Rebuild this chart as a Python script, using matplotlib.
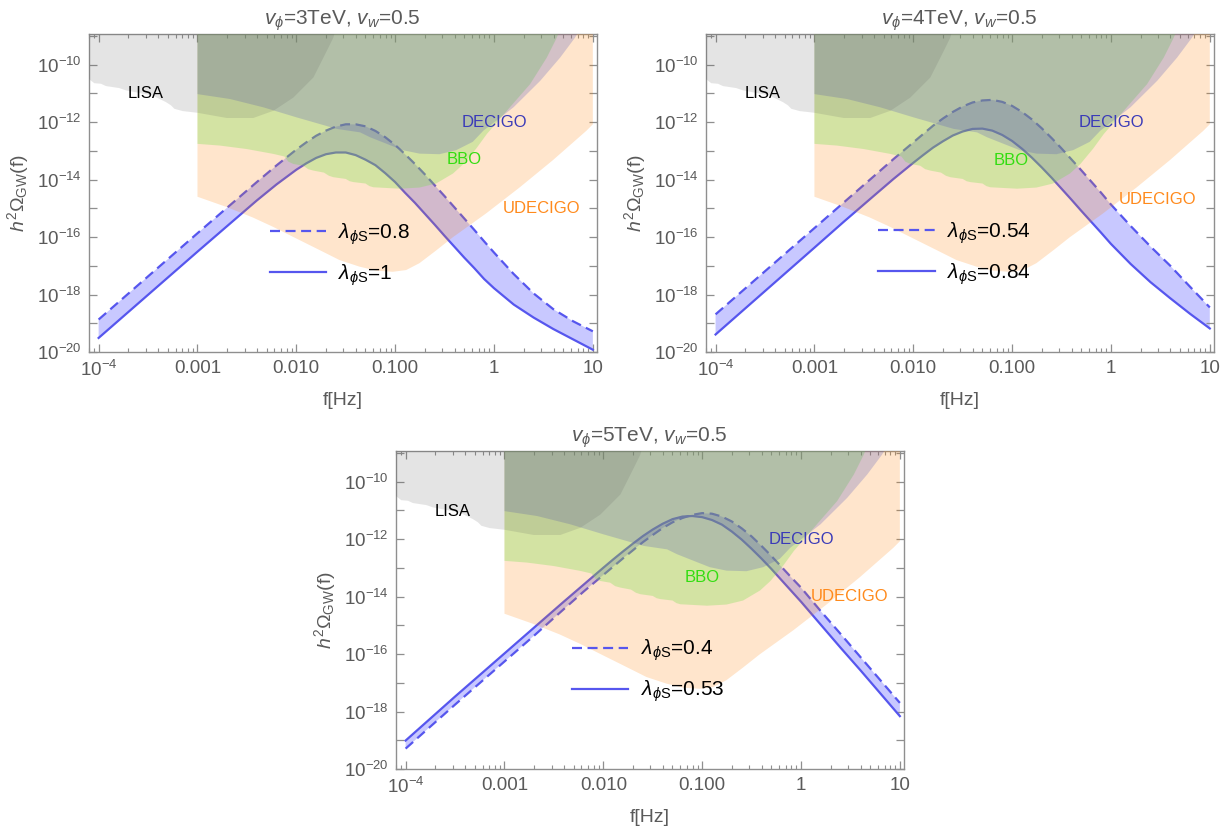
import numpy as np
import matplotlib
matplotlib.use("Agg")
import matplotlib.pyplot as plt
from matplotlib.ticker import FixedLocator, FixedFormatter, NullFormatter

plt.rcParams['font.family'] = ['Liberation Sans', 'DejaVu Sans']
plt.rcParams['mathtext.fontset'] = 'custom'
plt.rcParams['mathtext.rm'] = 'Liberation Sans'
plt.rcParams['mathtext.it'] = 'Liberation Sans:italic'
plt.rcParams['mathtext.bf'] = 'Liberation Sans:bold'
plt.rcParams['mathtext.fallback'] = 'stixsans'

# ---------------- data (log10 values) ----------------
log_f = [-4.0, -3.5, -3.0, -2.7, -2.4, -2.2, -2.0, -1.9, -1.8, -1.7, -1.6, -1.5,
         -1.4, -1.3, -1.2, -1.1, -1.0, -0.9, -0.8, -0.7, -0.6, -0.5, -0.4, -0.3,
         -0.2, -0.1, 0.0, 0.2, 0.4, 0.6, 0.8, 1.0]

# v_phi = 3 TeV
omega_3tev_l080 = [-18.87, -17.37, -15.87, -14.98, -14.09, -13.51, -12.96, -12.71, -12.48, -12.30,
                   -12.16, -12.08, -12.08, -12.15, -12.31, -12.53, -12.80, -13.12, -13.46, -13.82,
                   -14.20, -14.58, -14.97, -15.36, -15.75, -16.15, -16.54, -17.29, -17.96, -18.51,
                   -18.93, -19.28]
omega_3tev_l100 = [-19.51, -18.01, -16.51, -15.62, -14.73, -14.17, -13.66, -13.44, -13.25, -13.12,
                   -13.06, -13.06, -13.15, -13.31, -13.50, -13.78, -14.09, -14.46, -14.81, -15.19,
                   -15.57, -15.96, -16.34, -16.72, -17.08, -17.46, -17.78, -18.35, -18.80, -19.20,
                   -19.56, -19.92]
# v_phi = 4 TeV
omega_4tev_l054 = [-18.69, -17.19, -15.69, -14.79, -13.89, -13.29, -12.71, -12.42, -12.13, -11.88,
                   -11.65, -11.46, -11.32, -11.25, -11.23, -11.30, -11.44, -11.65, -11.91, -12.22,
                   -12.56, -12.92, -13.30, -13.68, -14.07, -14.46, -14.87, -15.62, -16.33, -17.00,
                   -17.73, -18.45]
omega_4tev_l084 = [-19.39, -17.88, -16.37, -15.46, -14.57, -13.98, -13.42, -13.15, -12.89, -12.67,
                   -12.47, -12.33, -12.24, -12.23, -12.30, -12.45, -12.66, -12.93, -13.24, -13.58,
                   -13.94, -14.32, -14.70, -15.09, -15.47, -15.85, -16.24, -16.94, -17.57, -18.13,
                   -18.67, -19.18]
# v_phi = 5 TeV
omega_5tev_l040 = [-19.29, -17.76, -16.26, -15.36, -14.44, -13.83, -13.25, -12.96, -12.67, -12.39,
                   -12.11, -11.86, -11.62, -11.42, -11.27, -11.16, -11.10, -11.12, -11.22, -11.39,
                   -11.63, -11.91, -12.24, -12.59, -12.96, -13.33, -13.69, -14.51, -15.30, -16.10,
                   -16.90, -17.70]
omega_5tev_l053 = [-19.01, -17.48, -15.98, -15.08, -14.18, -13.59, -13.00, -12.71, -12.43, -12.16,
                   -11.90, -11.67, -11.47, -11.31, -11.22, -11.20, -11.24, -11.34, -11.50, -11.74,
                   -12.02, -12.34, -12.68, -13.04, -13.42, -13.80, -14.18, -14.98, -15.78, -16.56,
                   -17.36, -18.16]

# detector sensitivity boundaries (log10 f, log10 h^2 Omega)
lisa_logf = [-4.2, -4.10, -4.044, -3.976, -3.926, -3.791, -3.723, -3.588, -3.453, -3.318,
             -3.268, -3.234, -3.150, -2.998, -2.704, -2.435, -2.232, -2.030, -1.827, -1.692,
             -1.625, -1.58]
lisa_logo = [-10.40, -10.50, -10.65, -10.67, -10.75, -10.82, -10.90, -10.99, -11.08, -11.31,
             -11.42, -11.54, -11.62, -11.68, -11.86, -11.86, -11.61, -11.15, -10.45, -9.53,
             -9.06, -8.5]

decigo_logf = [-3.0, -2.671, -2.333, -1.996, -1.591, -1.355, -1.254, -1.122, -0.923, -0.754,
               -0.552, -0.383, -0.215, -0.107, 0.197, 0.467, 0.669, 0.821, 0.90]
decigo_logo = [-11.03, -11.20, -11.49, -11.84, -12.24, -12.36, -12.53, -12.71, -12.98, -13.10,
               -13.12, -12.98, -12.69, -12.30, -11.49, -10.57, -9.76, -9.06, -8.6]

bbo_logf = [-3.0, -2.772, -2.502, -2.232, -2.12, -2.08, -2.030, -1.93, -1.88, -1.827, -1.72,
            -1.67, -1.625, -1.50, -1.46, -1.422, -1.30, -1.26, -1.220, -0.950, -0.754, -0.586,
            -0.414, -0.309, -0.181, -0.073, 0.130, 0.366, 0.534, 0.636, 0.70]
bbo_logo = [-12.76, -12.82, -12.94, -13.11, -13.20, -13.38, -13.46, -13.52, -13.64, -13.69,
            -13.76, -13.87, -13.92, -13.98, -14.06, -14.09, -14.14, -14.23, -14.27, -14.32,
            -14.28, -14.14, -13.79, -13.46, -12.93, -12.42, -11.61, -10.68, -9.76, -9.06, -8.5]

udecigo_logf = [-3.0, -2.711, -2.441, -2.239, -2.036, -1.767, -1.564, -1.362, -1.193, -1.024,
                -0.889, -0.754, -0.586, -0.417, -0.080, 0.258, 0.595, 0.933, 1.0]
udecigo_logo = [-14.60, -14.95, -15.32, -15.64, -15.99, -16.45, -16.80, -17.03, -17.17, -17.21,
                -17.15, -16.91, -16.47, -16.01, -15.18, -14.28, -13.33, -12.31, -12.08]

titles = [r'$v_{\phi}$=3TeV, $v_w$=0.5', r'$v_{\phi}$=4TeV, $v_w$=0.5', r'$v_{\phi}$=5TeV, $v_w$=0.5']
dashed_labels = [r'$\lambda_{\phi \mathrm{S}}$=0.8', r'$\lambda_{\phi \mathrm{S}}$=0.54', r'$\lambda_{\phi \mathrm{S}}$=0.4']
solid_labels = [r'$\lambda_{\phi \mathrm{S}}$=1', r'$\lambda_{\phi \mathrm{S}}$=0.84', r'$\lambda_{\phi \mathrm{S}}$=0.53']
x_tick_labels = [r'$10^{-4}$', '0.001', '0.010', '0.100', '1', '10']
y_tick_labels = [r'$10^{-20}$', '', r'$10^{-18}$', '', r'$10^{-16}$', '', r'$10^{-14}$', '',
                 r'$10^{-12}$', '', r'$10^{-10}$', '']

# ---------------- style ----------------
LINE = '#5656EE'
BAND = '#6464FF'
GREY = '#5a5a5a'
SPINE = '#8f8f8f'

panels = [
    dict(rect=(0.0722, 0.5769, 0.4134, 0.3822), dashed=omega_3tev_l080, solid=omega_3tev_l100,
         leg=(0.356, 0.307), lab=dict(LISA=(-3.52, -11.02), DECIGO=(0.005, -12.0),
                                      BBO=(-0.30, -13.31), UDECIGO=(0.477, -15.0))),
    dict(rect=(0.5742, 0.5769, 0.4134, 0.3822), dashed=omega_4tev_l054, solid=omega_4tev_l084,
         leg=(0.340, 0.310), lab=dict(LISA=(-3.526, -11.0), DECIGO=(0.0, -12.03),
                                      BBO=(-1.014, -13.33), UDECIGO=(0.475, -14.69))),
    dict(rect=(0.3220, 0.0757, 0.4134, 0.3822), dashed=omega_5tev_l040, solid=omega_5tev_l053,
         leg=(0.347, 0.308), lab=dict(LISA=(-3.52, -11.03), DECIGO=(0.005, -12.03),
                                      BBO=(-0.997, -13.34), UDECIGO=(0.487, -14.0))),
]
label_colors = dict(LISA='black', DECIGO='#3a3ab8', BBO='#33dd11', UDECIGO='#ff8a1c')

fig = plt.figure(figsize=(12.29, 8.32), dpi=100)
TOP = 1e-8
f = 10.0 ** np.array(log_f)

for i, p in enumerate(panels):
    ax = fig.add_axes(p['rect'])
    ax.set_xscale('log')
    ax.set_yscale('log')
    yd = 10.0 ** np.array(p['dashed'])
    ys = 10.0 ** np.array(p['solid'])
    ax.fill_between(f, yd, ys, facecolor=BAND, alpha=0.35, lw=0, zorder=1)
    ld, = ax.plot(f, yd, color=LINE, lw=1.6, dashes=(4.5, 2.5), zorder=2, label=dashed_labels[i])
    ls, = ax.plot(f, ys, color=LINE, lw=1.6, zorder=2, label=solid_labels[i])

    ax.fill_between(10.0 ** np.array(udecigo_logf), 10.0 ** np.array(udecigo_logo), TOP,
                    facecolor='#ff8000', alpha=0.2, lw=0, zorder=3)
    ax.fill_between(10.0 ** np.array(bbo_logf), 10.0 ** np.array(bbo_logo), TOP,
                    facecolor='#70e047', alpha=0.3, lw=0, zorder=4)
    ax.fill_between(10.0 ** np.array(decigo_logf), 10.0 ** np.array(decigo_logo), TOP,
                    facecolor='#575bb9', alpha=0.26, lw=0, zorder=5)
    ax.fill_between(10.0 ** np.array(lisa_logf), 10.0 ** np.array(lisa_logo), TOP,
                    facecolor='#5c5c5c', alpha=0.16, lw=0, zorder=6)

    for name, (lx, ly) in p['lab'].items():
        ax.text(10 ** lx, 10 ** ly, name, color=label_colors[name], fontsize=12,
                ha='center', va='center', zorder=8)

    ax.set_xlim(10 ** -4.10, 10 ** 1.04)
    ax.set_ylim(1e-20, 10 ** -8.94)

    ax.xaxis.set_major_locator(FixedLocator([1e-4, 1e-3, 1e-2, 1e-1, 1, 10]))
    ax.xaxis.set_major_formatter(FixedFormatter(x_tick_labels))
    minors = [m * 10.0 ** e for e in range(-5, 2) for m in range(2, 10)]
    ax.xaxis.set_minor_locator(FixedLocator(minors))
    ax.xaxis.set_minor_formatter(NullFormatter())
    ax.yaxis.set_major_locator(FixedLocator([10.0 ** e for e in range(-20, -8)]))
    ax.yaxis.set_major_formatter(FixedFormatter(y_tick_labels))
    ax.yaxis.set_minor_locator(FixedLocator([]))

    ax.tick_params(which='both', direction='in', top=True, right=True, color=SPINE,
                   labelcolor=GREY, labelsize=13.5)
    ax.tick_params(which='major', length=6, width=0.9)
    ax.tick_params(which='minor', length=3, width=0.8)
    ax.tick_params(axis='x', pad=6)
    ax.tick_params(axis='y', pad=5)
    for s in ax.spines.values():
        s.set_color(SPINE)
        s.set_linewidth(1.0)

    ax.set_xlabel('f[Hz]', fontsize=14, color=GREY, labelpad=8)
    ax.set_ylabel(r'$h^2\Omega_{\mathrm{GW}}\mathrm{(f)}$', fontsize=14, color=GREY, labelpad=4)
    ax.set_title(titles[i], fontsize=15, color=GREY, pad=7)

    leg = ax.legend(handles=[ld, ls], loc='center left', bbox_to_anchor=p['leg'],
                    frameon=False, fontsize=15, handlelength=2.7, handletextpad=0.6,
                    labelspacing=0.75, borderpad=0, borderaxespad=0)
    leg.set_zorder(10)

fig.savefig('out.png', dpi=100)
